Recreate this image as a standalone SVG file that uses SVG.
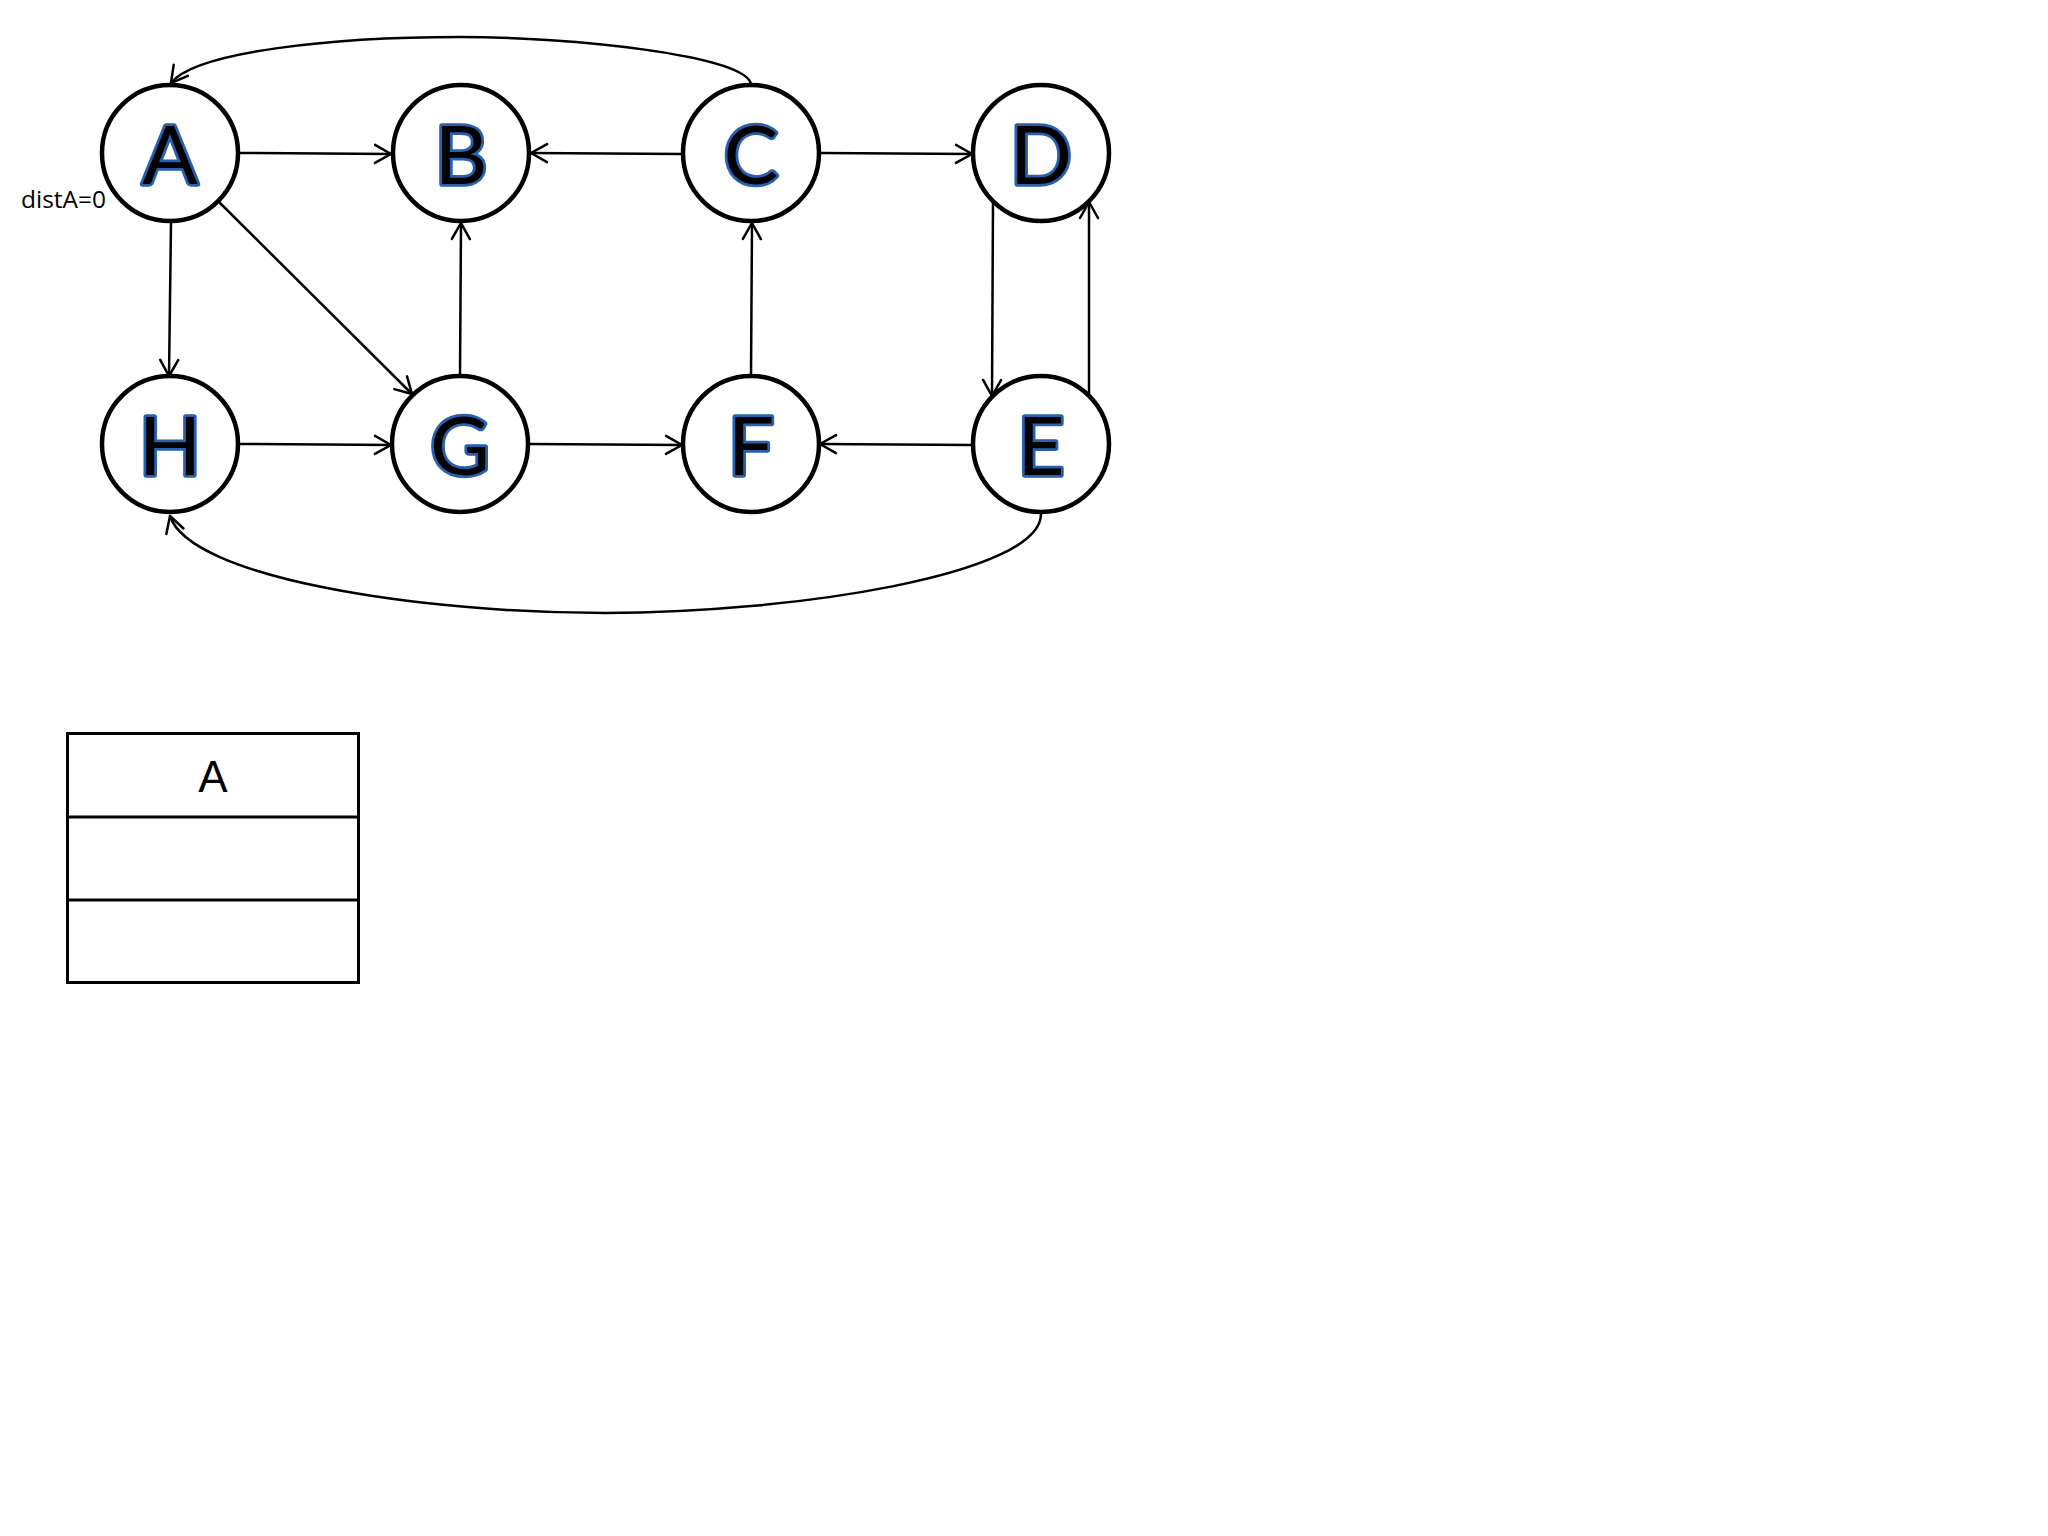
<svg xmlns="http://www.w3.org/2000/svg" width="2048" height="1536" viewBox="0 0 2048 1536">
<defs>
<marker id="arr" markerUnits="userSpaceOnUse" markerWidth="40" markerHeight="40" refX="0" refY="0" viewBox="-20 -20 40 40" orient="auto" overflow="visible">
<path d="M -16 -9 L 0 0 L -16 9" fill="none" stroke="#000" stroke-width="2.5" stroke-linecap="round" stroke-linejoin="round"/>
</marker>
<style>
.node circle{fill:#fff;stroke:#000;stroke-width:4.5}
.node text{font-family:Lato,"Open Sans","Liberation Sans",sans-serif;font-weight:normal;font-size:82px;fill:#000;stroke:#2760ad;stroke-width:5.5;paint-order:stroke;stroke-linejoin:round;text-anchor:middle}
.edge{fill:none;stroke:#000;stroke-width:2.5;marker-end:url(#arr)}
.lbl{font-family:"Open Sans","Liberation Sans",sans-serif;font-size:24px;fill:#000}
.tbl{fill:none;stroke:#000;stroke-width:3}
.tbltext{font-family:"Liberation Sans",sans-serif;font-size:44px;fill:#000;text-anchor:middle}
</style>
</defs>
<rect width="2048" height="1536" fill="#fff"/>
<g id="connectors">
<path class="edge" d="M240 153 L391 154"/>
<path class="edge" d="M682 154 L531 153"/>
<path class="edge" d="M820 153 L972 154"/>
<path class="edge" d="M171 223 L169 376"/>
<path class="edge" d="M218 201 L412 394"/>
<path class="edge" d="M460 376 L461 223"/>
<path class="edge" d="M751 376 L752 223"/>
<path class="edge" d="M993 201 L992 396"/>
<path class="edge" d="M1089 394 L1089 202"/>
<path class="edge" d="M239 444 L391 445"/>
<path class="edge" d="M530 444 L682 445"/>
<path class="edge" d="M972 445 L820 444"/>
<path class="edge" d="M751 84 C745 55 570 37 460 37 C330 37 195 52 171 83"/>
<path class="edge" d="M1041 514 C1041 575 790 613 605 613 C420 613 190 578 170 516"/>
</g>
<g id="node-A" class="node"><circle cx="170" cy="153" r="68"/><text x="170" y="184">A</text></g>
<g id="node-B" class="node"><circle cx="461" cy="153" r="68"/><text x="461" y="184">B</text></g>
<g id="node-C" class="node"><circle cx="751" cy="153" r="68"/><text x="751" y="184">C</text></g>
<g id="node-D" class="node"><circle cx="1041" cy="153" r="68"/><text x="1041" y="184">D</text></g>
<g id="node-H" class="node"><circle cx="170" cy="444" r="68"/><text x="170" y="475">H</text></g>
<g id="node-G" class="node"><circle cx="460" cy="444" r="68"/><text x="460" y="475">G</text></g>
<g id="node-F" class="node"><circle cx="751" cy="444" r="68"/><text x="751" y="475">F</text></g>
<g id="node-E" class="node"><circle cx="1041" cy="444" r="68"/><text x="1041" y="475">E</text></g>
<text class="lbl" x="21" y="208" textLength="85" lengthAdjust="spacingAndGlyphs">distA=0</text>
<g id="table">
<rect class="tbl" x="67.5" y="733.5" width="291" height="249"/>
<line class="tbl" x1="67" y1="817" x2="358" y2="817"/>
<line class="tbl" x1="67" y1="900" x2="358" y2="900"/>
<text class="tbltext" x="213" y="792">A</text>
</g>
</svg>
